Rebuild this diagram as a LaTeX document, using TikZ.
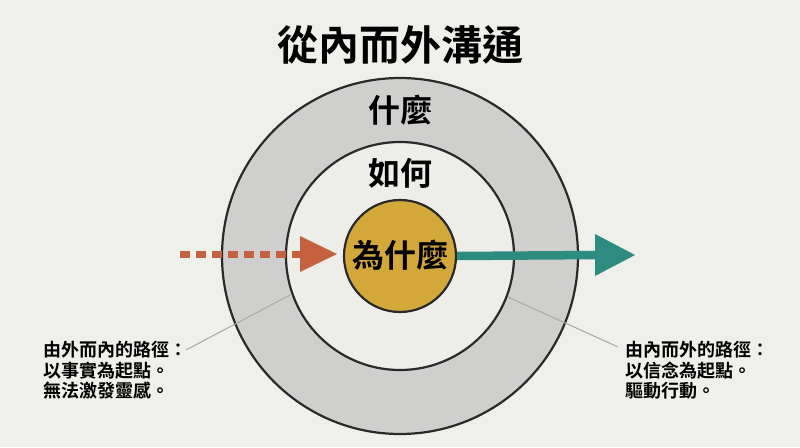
\documentclass[tikz,border=0pt]{standalone}
\usepackage{fontspec}
\setmainfont{Noto Sans CJK TC}[BoldFont={Noto Sans CJK TC Bold}]
\usetikzlibrary{arrows.meta}
\definecolor{bgc}{HTML}{EFEFEB}
\definecolor{ringc}{HTML}{CFCFCD}
\definecolor{midc}{HTML}{EDEDEA}
\definecolor{goldc}{HTML}{D3A73A}
\definecolor{linec}{HTML}{2A2A2A}
\definecolor{orangec}{HTML}{C6613F}
\definecolor{tealc}{HTML}{2D8B7F}
\definecolor{leadc}{HTML}{A8A8A6}
\tikzset{
  ring/.style={circle, draw=linec, line width=2.2pt, inner sep=0pt},
  lbl/.style={font=\bfseries\fontsize{32}{34}\selectfont, text=black},
  body/.style={font=\bfseries\fontsize{18}{20.5}\selectfont, align=left, anchor=north west, inner sep=0pt},
  leader/.style={draw=leadc, line width=1pt}
}
\begin{document}
\begin{tikzpicture}[x=1pt,y=-1pt]
\fill[bgc] (0,0) rectangle (800,447);
\useasboundingbox (0,0) rectangle (800,447);
\node[font=\bfseries\fontsize{41}{44}\selectfont] (title) at (400,45) {從內而外溝通};
\node[ring, fill=ringc, minimum size=356pt] (outer) at (400,256) {};
\node[ring, fill=midc, minimum size=228pt] (mid) at (400,256) {};
% arrows
\coordinate (ls) at (180,254);
\coordinate (lt) at (337,254);
\draw[orangec, line width=7pt, dash pattern=on 10pt off 6pt] (ls) -- (302,254);
\fill[orangec] (300,236) -- (lt) -- (300,272) -- cycle;
\node[ring, fill=goldc, minimum size=112pt] (inner) at (400,256) {};
\coordinate (rt) at (635,255);
\draw[tealc, line width=8.5pt] (inner.east) -- (598,255);
\fill[tealc] (595,234) -- (rt) -- (595,276) -- cycle;
\node[lbl] (what) at (400,110) {什麼};
\node[lbl] (how) at (400,173) {如何};
\node[lbl] (why) at (400,255) {為什麼};
% texts
\node[body] (ltext) at (43,341) {由外而內的路徑：\\以事實為起點。\\無法激發靈感。};
\node[body] (rtext) at (625,341) {由內而外的路徑：\\以信念為起點。\\驅動行動。};
\coordinate (lp) at (290,295);
\coordinate (rp) at (508,297);
\draw[leader] (186,350) -- (lp);
\draw[leader] (rp) -- (618,347);
\end{tikzpicture}
\end{document}
